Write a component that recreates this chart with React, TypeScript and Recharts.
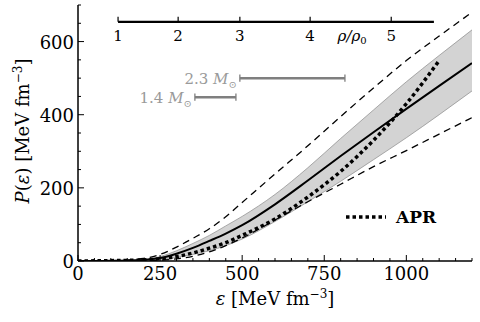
import React from 'react';
import { ComposedChart, Line, Area, XAxis, YAxis, ReferenceLine, ReferenceDot, Customized } from 'recharts';

const eps = [0, 100, 200, 250, 300, 350, 400, 450, 500, 600, 700, 800, 900, 1000, 1100, 1200];
const upperDashed = [0, 1, 7, 18, 38, 62, 88, 121, 160, 238, 315, 395, 473, 548, 615, 680];
const lowerDashed = [0, 0, 1, 2, 6, 13, 25, 42, 63, 112, 162, 210, 258, 302, 347, 392];
const bandLow = [0, 0, 2, 4, 10, 18, 28, 42, 60, 108, 162, 218, 277, 337, 400, 465];
const bandHigh = [0, 1, 4, 12, 28, 48, 70, 96, 122, 182, 255, 335, 413, 490, 562, 632];
const central = [0, 0.5, 3, 8, 20, 36, 55, 75, 98, 155, 220, 287, 352, 416, 479, 541];
const apr = [0, 1, 3, 6, 12, 22, 35, 50, 70, 115, 175, 245, 330, 430, 548];

const xTicks = [0, 50, 100, 150, 200, 250, 300, 350, 400, 450, 500, 550, 600, 650, 700, 750, 800, 850, 900, 950, 1000, 1050, 1100, 1150, 1200];
const yTicks = [0, 50, 100, 150, 200, 250, 300, 350, 400, 450, 500, 550, 600, 650, 700];
const xMajorStep = 250;
const yMajorStep = 200;

const rhoLabels = ['1', '2', '3', '4', '5'];
const rhoEps = [122, 305, 493, 707, 954];
const rhoStart = 122;
const rhoEnd = 1084;
const rhoLevel = 654;
const rhoTickTop = 668;
const rhoLabelLevel = 602;

const massLabels = ['2.3', '1.4'];
const massFrom = [493, 356];
const massTo = [813, 481];
const massLevel = [500, 448];

const data = eps.map((e, i) => ({
  eps: e,
  up: upperDashed[i],
  lo: lowerDashed[i],
  band: [bandLow[i], bandHigh[i]],
  mid: central[i],
  apr: i < apr.length ? apr[i] : null,
}));

const FONT = "'DejaVu Serif', 'Liberation Serif', serif";
const tf = (size: number, extra: any = {}) => ({ fontFamily: FONT, fontSize: size, ...extra });
const W = 480;
const H = 322;

const BottomTick = (p: any) => {
  const v = p.payload.value;
  const major = v % xMajorStep === 0;
  return (
    <g>
      <line x1={p.x} x2={p.x} y1={p.y} y2={p.y - (major ? 6 : 3)} stroke="#000" strokeWidth={1} />
      {major && v <= 1000 ? (
        <text x={p.x} y={p.y + 19} textAnchor="middle" style={tf(18)} fill="#000">{v}</text>
      ) : null}
    </g>
  );
};
const TopTick = (p: any) => {
  const v = p.payload.value;
  const major = v % xMajorStep === 0;
  return <line x1={p.x} x2={p.x} y1={p.y} y2={p.y + (major ? 6 : 3)} stroke="#000" strokeWidth={1} />;
};
const LeftTick = (p: any) => {
  const v = p.payload.value;
  const major = v % yMajorStep === 0;
  return (
    <g>
      <line x1={p.x} x2={p.x + (major ? 6 : 3)} y1={p.y} y2={p.y} stroke="#000" strokeWidth={1} />
      {major ? (
        <text x={p.x - 4} y={p.y + 7} textAnchor="end" style={tf(18)} fill="#000">{v}</text>
      ) : null}
    </g>
  );
};
const RightTick = (p: any) => {
  const v = p.payload.value;
  const major = v % yMajorStep === 0;
  return <line x1={p.x} x2={p.x - (major ? 6 : 3)} y1={p.y} y2={p.y} stroke="#000" strokeWidth={1} />;
};

const Decor = () => (
  <g>
    <text x={29} y={131} transform="rotate(-90, 29, 131)" textAnchor="middle" style={tf(18)} fill="#000">
      <tspan fontStyle="italic">P</tspan>(<tspan fontStyle="italic">ε</tspan>)  [MeV fm
      <tspan dy={-7} fontSize={12}>−3</tspan>
      <tspan dy={7}>]</tspan>
    </text>
    <text x={275} y={305} textAnchor="middle" style={tf(18)} fill="#000">
      <tspan fontStyle="italic">ε</tspan>  [MeV fm<tspan dy={-7} fontSize={12}>−3</tspan>
      <tspan dy={7}>]</tspan>
    </text>
    <line x1={346} x2={386} y1={217} y2={217} stroke="#000" strokeWidth={3.5} strokeDasharray="3.5 3" />
    <text x={396} y={223} style={tf(17, { fontWeight: 'bold' })} fill="#000">APR</text>
  </g>
);

const textShape = (content: React.ReactNode, anchor: string, dx: number, dy: number, size: number, color: string) =>
  (p: any) => (
    <text x={p.cx + dx} y={p.cy + dy} textAnchor={anchor} style={tf(size)} fill={color}>{content}</text>
  );

export default function App() {
  return (
    <div style={{ position: 'absolute', left: 0, top: 0, width: W, height: H, background: '#fff' }}>
      <ComposedChart width={W} height={H} data={data} margin={{ top: 5, right: 8, bottom: 0, left: 0 }}>
        <XAxis xAxisId="b" type="number" dataKey="eps" domain={[0, 1200]} ticks={xTicks} interval={0}
          orientation="bottom" height={61} tickSize={0} tickMargin={0} tick={BottomTick}
          axisLine={{ stroke: '#000', strokeWidth: 1.5 }} tickLine={false} allowDataOverflow />
        <XAxis xAxisId="t" type="number" dataKey="eps" domain={[0, 1200]} ticks={xTicks} interval={0}
          orientation="top" height={0} tickSize={0} tickMargin={0} tick={TopTick}
          axisLine={{ stroke: '#000', strokeWidth: 1.5 }} tickLine={false} allowDataOverflow />
        <YAxis yAxisId="l" type="number" domain={[0, 700]} ticks={yTicks} interval={0}
          orientation="left" width={78} tickSize={0} tickMargin={0} tick={LeftTick}
          axisLine={{ stroke: '#000', strokeWidth: 1.5 }} tickLine={false} allowDataOverflow />
        <YAxis yAxisId="r" type="number" domain={[0, 700]} ticks={yTicks} interval={0}
          orientation="right" width={0} tickSize={0} tickMargin={0} tick={RightTick}
          axisLine={{ stroke: '#000', strokeWidth: 1.5 }} tickLine={false} allowDataOverflow />

        <Area xAxisId="b" yAxisId="l" type="monotone" dataKey="band" fill="#d3d3d3" fillOpacity={1}
          stroke="#8a8a8a" strokeWidth={0.7} isAnimationActive={false} activeDot={false} />
        <Line xAxisId="b" yAxisId="l" type="monotone" dataKey="up" stroke="#000" strokeWidth={1.3}
          strokeDasharray="7 5" dot={false} isAnimationActive={false} activeDot={false} />
        <Line xAxisId="b" yAxisId="l" type="monotone" dataKey="lo" stroke="#000" strokeWidth={1.3}
          strokeDasharray="7 5" dot={false} isAnimationActive={false} activeDot={false} />
        <Line xAxisId="b" yAxisId="l" type="monotone" dataKey="mid" stroke="#000" strokeWidth={2}
          dot={false} isAnimationActive={false} activeDot={false} />
        <Line xAxisId="b" yAxisId="l" type="monotone" dataKey="apr" stroke="#000" strokeWidth={3.5}
          strokeDasharray="3.5 3" dot={false} isAnimationActive={false} activeDot={false} />

        <ReferenceLine xAxisId="b" yAxisId="l" segment={[{ x: rhoStart, y: rhoLevel }, { x: rhoEnd, y: rhoLevel }]}
          stroke="#000" strokeWidth={2.2} ifOverflow="visible" />
        {rhoEps.map((e, i) => (
          <ReferenceLine key={'rt' + i} xAxisId="b" yAxisId="l" segment={[{ x: e, y: rhoLevel }, { x: e, y: rhoTickTop }]}
            stroke="#000" strokeWidth={1.2} ifOverflow="visible" />
        ))}
        {rhoEps.map((e, i) => (
          <ReferenceDot key={'rl' + i} xAxisId="b" yAxisId="l" x={e} y={rhoLabelLevel} r={0} ifOverflow="visible"
            shape={textShape(rhoLabels[i], 'middle', 0, 0, 15, '#000')} />
        ))}
        <ReferenceDot xAxisId="b" yAxisId="l" x={835} y={rhoLabelLevel} r={0} ifOverflow="visible"
          shape={textShape(<tspan fontStyle="italic">ρ/ρ<tspan fontStyle="normal" fontSize={10} dy={3}>0</tspan></tspan>, 'middle', 0, 0, 15, '#000')} />

        {massFrom.map((f, i) => (
          <ReferenceLine key={'mb' + i} xAxisId="b" yAxisId="l" segment={[{ x: f, y: massLevel[i] }, { x: massTo[i], y: massLevel[i] }]}
            stroke="#7f7f7f" strokeWidth={2.5} ifOverflow="visible" />
        ))}
        {massFrom.map((f, i) => (
          <ReferenceLine key={'mc1' + i} xAxisId="b" yAxisId="l" segment={[{ x: f, y: massLevel[i] - 10 }, { x: f, y: massLevel[i] + 10 }]}
            stroke="#7f7f7f" strokeWidth={1.3} ifOverflow="visible" />
        ))}
        {massTo.map((t, i) => (
          <ReferenceLine key={'mc2' + i} xAxisId="b" yAxisId="l" segment={[{ x: t, y: massLevel[i] - 10 }, { x: t, y: massLevel[i] + 10 }]}
            stroke="#7f7f7f" strokeWidth={1.3} ifOverflow="visible" />
        ))}
        {massFrom.map((f, i) => (
          <ReferenceDot key={'ml' + i} xAxisId="b" yAxisId="l" x={f} y={massLevel[i]} r={0} ifOverflow="visible"
            shape={textShape(<>{massLabels[i]} <tspan fontStyle="italic">M</tspan><tspan fontSize={10} dy={4}>⊙</tspan></>, 'end', -3, 6, 15, '#9a9a9a')} />
        ))}

        <Customized component={<Decor />} />
      </ComposedChart>
    </div>
  );
}
